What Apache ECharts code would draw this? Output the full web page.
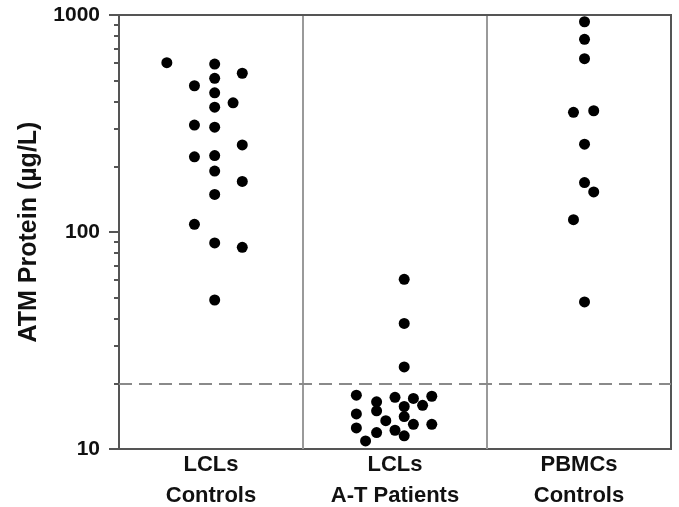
<!DOCTYPE html>
<html>
<head>
<meta charset="utf-8">
<script src="https://cdn.jsdelivr.net/npm/echarts@6/dist/echarts.min.js"></script>
<style>html,body{margin:0;padding:0;background:#fff;}#c{width:679px;height:507px;}</style>
</head>
<body>
<div id="c"></div>
<script>
// Group labels (x positions: group i spans [i, i+1] on the value axis)
const categories = ['LCLs\nControls', 'LCLs\nA-T Patients', 'PBMCs\nControls'];
const yTickLabels = [10, 100, 1000];
const minorTickValues = [20, 30, 40, 50, 60, 70, 80, 90, 200, 300, 400, 500, 600, 700, 800, 900];
const cutoffValue = 20;

// LCLs Controls
const lclControlsX = [0.26, 0.52, 0.67, 0.41, 0.52, 0.52, 0.62, 0.52, 0.41, 0.52, 0.67, 0.41, 0.52, 0.52, 0.67, 0.52, 0.41, 0.52, 0.67, 0.52];
const lclControlsY = [603, 594, 539, 472, 511, 438, 394, 376, 311, 304, 252, 222, 225, 191, 171, 149, 108.5, 89, 85, 48.6];

// LCLs A-T Patients
const lclPatientsX = [1.55, 1.55, 1.55, 1.29, 1.40, 1.50, 1.60, 1.70, 1.65, 1.55, 1.29, 1.40, 1.55, 1.45, 1.60, 1.70, 1.29, 1.50, 1.40, 1.55, 1.34];
const lclPatientsY = [60.5, 37.9, 23.9, 17.7, 16.5, 17.3, 17.1, 17.5, 15.9, 15.7, 14.5, 15.0, 14.1, 13.5, 13.0, 13.0, 12.5, 12.2, 11.9, 11.5, 10.9];

// PBMCs Controls
const pbmcControlsX = [2.53, 2.53, 2.53, 2.47, 2.58, 2.53, 2.53, 2.58, 2.47, 2.53];
const pbmcControlsY = [931, 773, 629, 356, 362, 254, 169, 153, 114, 47.6];

function pairs(xs, ys) { return xs.map((x, i) => [x, ys[i]]); }

const FONT = "'Liberation Sans', Arial, Helvetica, sans-serif";
const chart = echarts.init(document.getElementById('c'), null, { renderer: 'canvas' });

const dotStyle = { type: 'scatter', symbol: 'circle', symbolSize: 11, itemStyle: { color: '#000', opacity: 1 }, xAxisIndex: 1, yAxisIndex: 0, silent: true };

chart.setOption({
  animation: false,
  backgroundColor: '#fff',
  grid: { left: 119, right: 8, top: 15, bottom: 58, containLabel: false, outerBoundsMode: 'none',
    show: true, borderColor: '#555', borderWidth: 2, backgroundColor: 'transparent' },
  xAxis: [
    {
      type: 'category', data: categories, boundaryGap: true,
      axisLine: { show: false }, axisTick: { show: false }, splitLine: { show: false },
      axisLabel: { color: '#111', fontFamily: FONT, fontWeight: 'bold', fontSize: 22, lineHeight: 31, margin: 0 }
    },
    {
      type: 'value', min: 0, max: 3, interval: 1,
      axisLine: { show: true, lineStyle: { color: '#555', width: 2 } },
      axisTick: { show: false }, axisLabel: { show: false },
      splitLine: { show: true, lineStyle: { color: ['#555', '#9a9a9a', '#9a9a9a', '#555'], width: 2 } }
    }
  ],
  yAxis: [
    {
      type: 'log', logBase: 10, min: 10, max: 1000,
      name: 'ATM Protein (µg/L)', nameLocation: 'middle', nameGap: 77,
      nameTextStyle: { color: '#111', fontFamily: FONT, fontWeight: 'bold', fontSize: 25 },
      axisLine: { show: true, lineStyle: { color: '#555', width: 2 } },
      axisTick: { show: true, inside: false, length: 10, lineStyle: { color: '#555', width: 2 } },
      axisLabel: { color: '#111', fontFamily: FONT, fontWeight: 'bold', fontSize: 21, margin: 19,
        formatter: v => (yTickLabels.indexOf(Math.round(v)) >= 0 ? String(Math.round(v)) : '') },
      splitLine: { show: false }
    },
    {
      type: 'value', min: 1, max: 3, position: 'left',
      axisLine: { show: false },
      axisTick: { show: true, inside: false, length: 5, customValues: minorTickValues.map(v => Math.log10(v)), lineStyle: { color: '#555', width: 2 } },
      axisLabel: { show: false },
      splitLine: { show: false }
    }
  ],
  series: [
    Object.assign({}, dotStyle, {
      name: 'LCLs Controls', data: pairs(lclControlsX, lclControlsY),
      markLine: { silent: true, symbol: 'none', label: { show: false },
        lineStyle: { color: '#8a8a8a', width: 2, type: [13, 7] },
        data: [{ yAxis: cutoffValue }] }
    }),
    Object.assign({}, dotStyle, { name: 'LCLs A-T Patients', data: pairs(lclPatientsX, lclPatientsY) }),
    Object.assign({}, dotStyle, { name: 'PBMCs Controls', data: pairs(pbmcControlsX, pbmcControlsY) })
  ]
});
</script>
</body>
</html>
